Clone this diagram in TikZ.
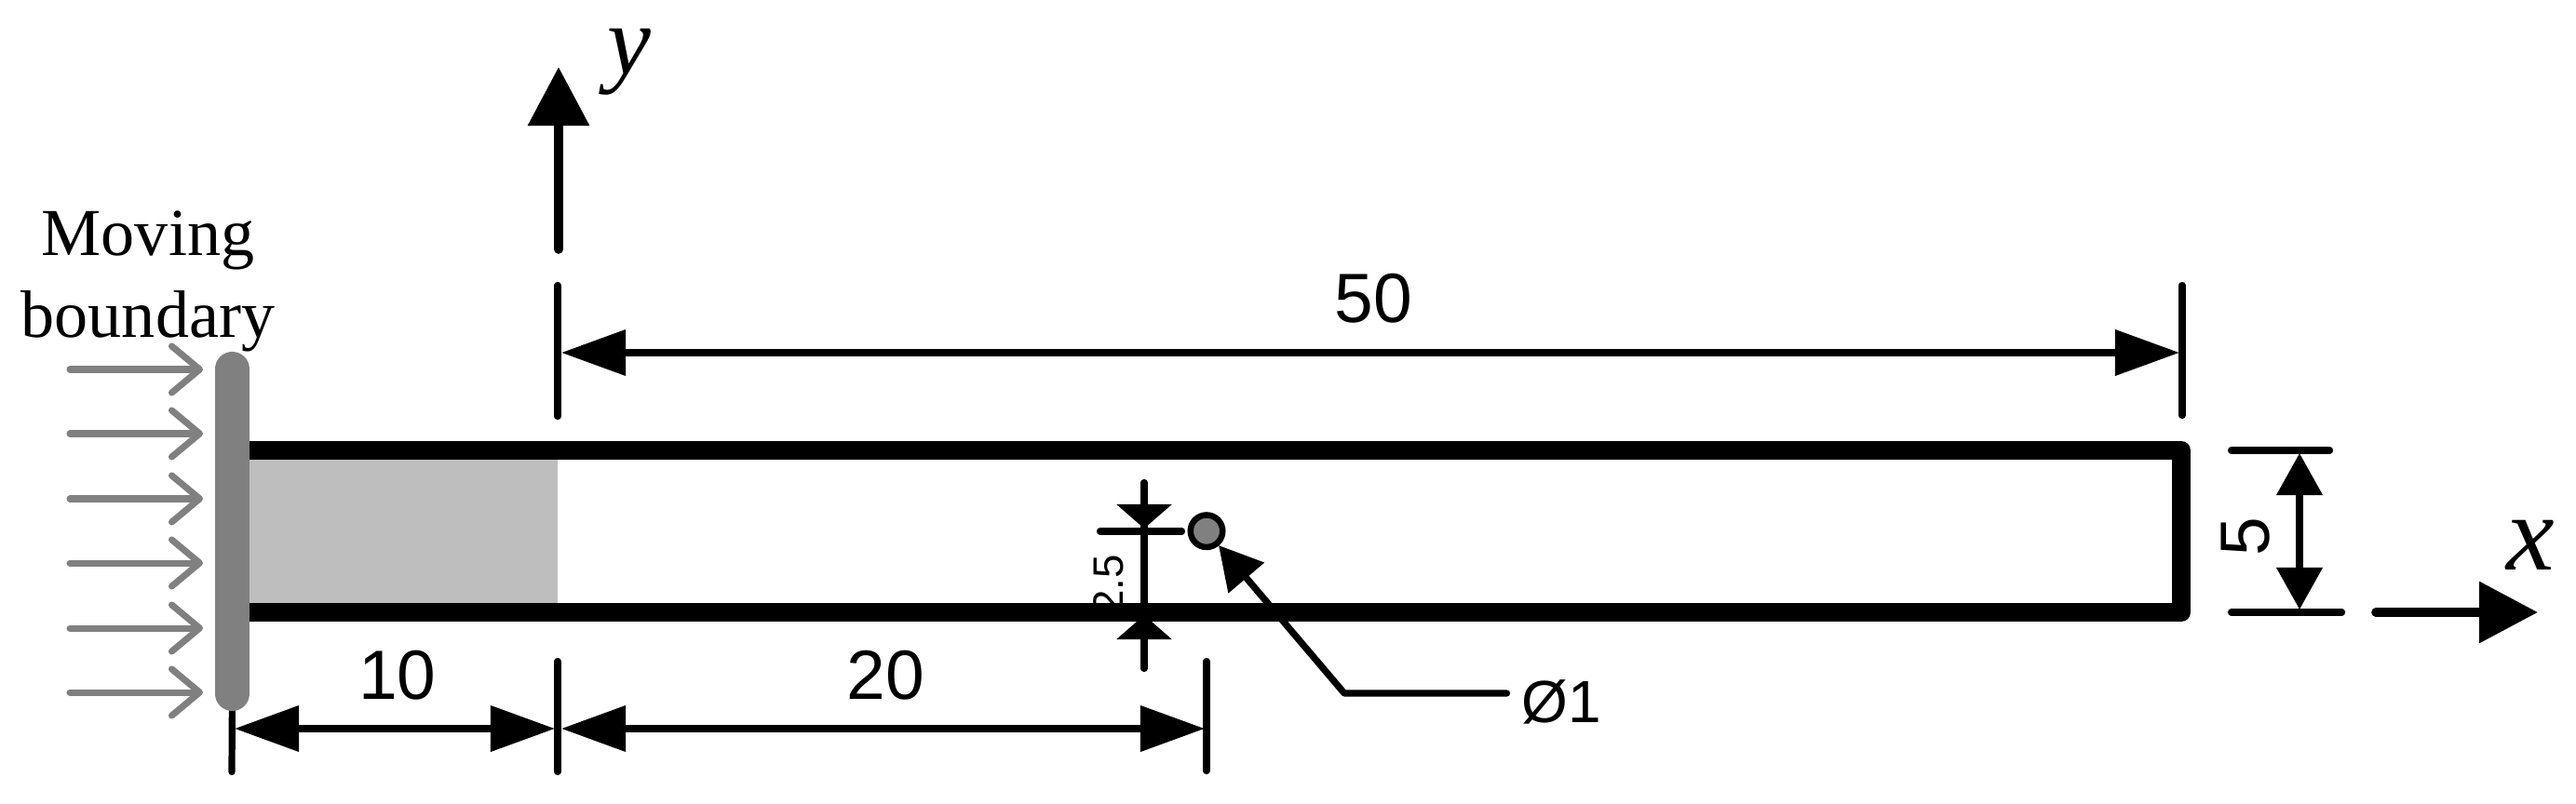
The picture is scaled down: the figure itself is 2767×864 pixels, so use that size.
\documentclass[tikz,border=0pt]{standalone}
\usepackage{fontspec}
\setmainfont{Liberation Serif}
\setsansfont{Liberation Sans}
\usetikzlibrary{arrows.meta}

\begin{document}
\begin{tikzpicture}[x=0.01cm,y=-0.01cm,
      wall/.style ={line width=0.2cm,line join=round},
      bar/.style  ={line width=0.37cm,line cap=round,color=gray50},
      feed/.style ={line width=0.07cm,line cap=round,color=gray50,-{Straight Barb[length=0.3cm,width=0.5cm,round]}},
      ext/.style  ={line width=0.072cm,line cap=round},
      dima/.style ={line width=0.072cm,{Triangle[length=0.69cm,width=0.48cm]}-{Triangle[length=0.69cm,width=0.48cm]}},
      dimb/.style ={line width=0.072cm,{Triangle[length=0.45cm,width=0.48cm]}-{Triangle[length=0.45cm,width=0.48cm]}},
      dimc/.style ={line width=0.072cm,-{Triangle[length=0.26cm,width=0.58cm]}},
      axis/.style ={line width=0.097cm,line cap=round,-{Triangle[length=0.63cm,width=0.64cm]}},
      num/.style  ={font=\sffamily\fontsize{21.3}{24}\selectfont,inner sep=0pt,anchor=base},
      lab/.style  ={font=\itshape\fontsize{30}{33}\selectfont,inner sep=0pt,anchor=base}]
      \definecolor{gray50}{RGB}{128,128,128}
      \definecolor{gray75}{RGB}{190,190,190}
      \path[use as bounding box] (0,0) rectangle (2767,864);
      % Channel corners
      \coordinate (TL) at (268,484);
      \coordinate (TR) at (2343,484);
      \coordinate (BR) at (2343,658);
      \coordinate (BL) at (268,658);
      % Small dimension text goes under the wall
      \node[font=\sffamily\fontsize{13}{15}\selectfont,inner sep=0pt,rotate=90] (d25) at (1191,628) {2.5};
      % Gas column
      \fill[gray75] (268,494) rectangle (599,648);
      \draw[wall] (TL)--(TR)--(BR)--(BL);
      % Moving wall
      \coordinate (P1) at (249.5,396.5);
      \coordinate (P2) at (249.5,745.5);
      \coordinate (E0) at (249,829.5);
      \draw[ext] (P2)--(E0);
      \draw[bar] (P1)--(P2);
      \foreach \yy [count=\idx] in {397,466,536,605,675,744}{%
        \coordinate (F\idx) at (75,\yy);
        \coordinate (G\idx) at (218,\yy);
        \draw[feed] (F\idx)--(G\idx);
      }
      \node[align=center,inner sep=0pt,font=\fontsize{20.5}{25.3}\selectfont,anchor=base] (mb) at (159,363) {Moving\\boundary};
      % Axes
      \coordinate (Y0) at (600,268);
      \coordinate (Y1) at (600,72);
      \draw[axis] (Y0)--(Y1);
      \node[lab] (ly) at (676,80) {y};
      \coordinate (X0) at (2552,658);
      \coordinate (X1) at (2726,658);
      \draw[axis] (X0)--(X1);
      \node[lab,font=\itshape\fontsize{33}{36}\selectfont] (lx) at (2718,612) {x};
      % Extension lines
      \coordinate (E1) at (599,306.5);  \coordinate (E2) at (599,447.5);
      \coordinate (E3) at (2344,306.5); \coordinate (E4) at (2344,446.5);
      \coordinate (E5) at (599,710.5);  \coordinate (E6) at (599,829.5);
      \coordinate (E7) at (1296,710.5); \coordinate (E8) at (1296,828.5);
      \coordinate (R1) at (2396.5,484); \coordinate (R2) at (2502.5,484);
      \coordinate (R3) at (2396.5,658); \coordinate (R4) at (2515.5,658);
      \coordinate (S1) at (1181.5,571); \coordinate (S2) at (1269.5,571);
      \coordinate (S3) at (1229,518.5); \coordinate (S4) at (1229,718.5);
      \foreach \from/\to in {E1/E2,E3/E4,E5/E6,E7/E8,R1/R2,R3/R4,S1/S2,S3/S4}{\draw[ext] (\from)--(\to);}
      % Dimensions
      \coordinate (Da) at (603,379); \coordinate (Db) at (2341,379);
      \draw[dima] (Da)--(Db);
      \node[num] (d50) at (1475,347) {50};
      \coordinate (Ca) at (252,783); \coordinate (Cb) at (596,783);
      \draw[dima] (Ca)--(Cb);
      \node[num] (d10) at (427,751) {10};
      \coordinate (Ba) at (603,783); \coordinate (Bb) at (1294,783);
      \draw[dima] (Ba)--(Bb);
      \node[num] (d20) at (951,751) {20};
      \coordinate (Aa) at (2470,487); \coordinate (Ab) at (2470,655);
      \draw[dimb] (Aa)--(Ab);
      \node[num,anchor=center,rotate=90] (d5) at (2412,577) {5};
      % Short dimension: heads only
      \coordinate (Sa) at (1229,530); \coordinate (Sb) at (1229,568);
      \coordinate (Sc) at (1229,699); \coordinate (Sd) at (1229,661);
      \draw[dimc] (Sa)--(Sb);
      \draw[dimc] (Sc)--(Sd);
      % Hole
      \node[circle,draw,line width=0.065cm,fill=gray50,minimum size=0.345cm,inner sep=0pt] (hole) at (1296,570.7) {};
      \coordinate (Lt) at (1309,586);
      \coordinate (Lm) at (1444,745);
      \coordinate (Le) at (1618.5,745);
      \draw[line width=0.072cm,line join=round,line cap=round,{Triangle[length=0.46cm,width=0.49cm]}-] (Lt)--(Lm)--(Le);
      \node[num,font=\sffamily\fontsize{18.2}{22}\selectfont] (dh) at (1677,776) {Ø1};
\end{tikzpicture}
\end{document}
